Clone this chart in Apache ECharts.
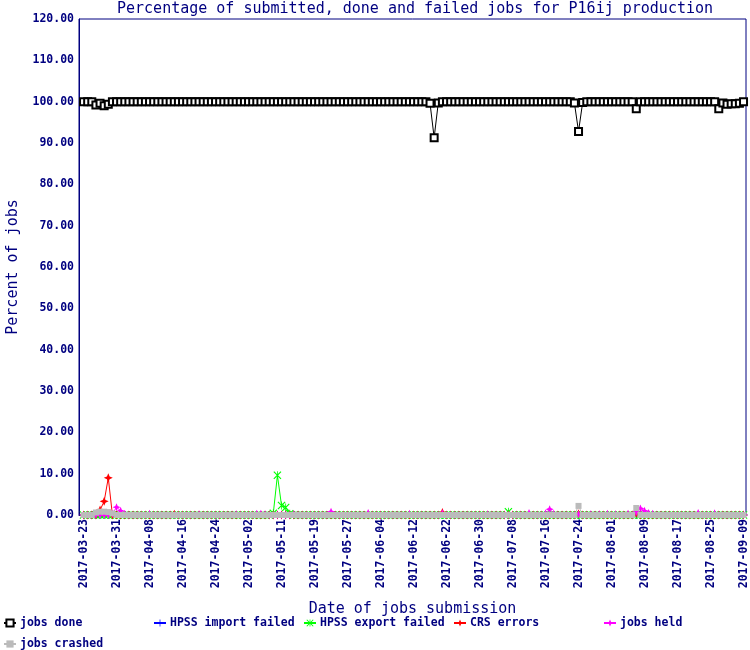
<!DOCTYPE html>
<html><head><meta charset="utf-8">
<script src="https://cdn.jsdelivr.net/npm/echarts@6/dist/echarts.min.js"></script>
<style>html,body{margin:0;padding:0;background:#fff}#c{width:750px;height:650px}</style>
</head><body><div id="c"></div>
<script>
const dates = [
"2017-03-23","2017-03-24","2017-03-25","2017-03-26","2017-03-27","2017-03-28","2017-03-29","2017-03-30",
"2017-03-31","2017-04-01","2017-04-02","2017-04-03","2017-04-04","2017-04-05","2017-04-06","2017-04-07",
"2017-04-08","2017-04-09","2017-04-10","2017-04-11","2017-04-12","2017-04-13","2017-04-14","2017-04-15",
"2017-04-16","2017-04-17","2017-04-18","2017-04-19","2017-04-20","2017-04-21","2017-04-22","2017-04-23",
"2017-04-24","2017-04-25","2017-04-26","2017-04-27","2017-04-28","2017-04-29","2017-04-30","2017-05-01",
"2017-05-02","2017-05-03","2017-05-04","2017-05-05","2017-05-06","2017-05-08","2017-05-09","2017-05-10",
"2017-05-11","2017-05-12","2017-05-13","2017-05-14","2017-05-15","2017-05-16","2017-05-17","2017-05-18",
"2017-05-19","2017-05-20","2017-05-21","2017-05-22","2017-05-23","2017-05-24","2017-05-25","2017-05-26",
"2017-05-27","2017-05-28","2017-05-29","2017-05-30","2017-05-31","2017-06-01","2017-06-02","2017-06-03",
"2017-06-04","2017-06-05","2017-06-06","2017-06-07","2017-06-08","2017-06-09","2017-06-10","2017-06-11",
"2017-06-12","2017-06-13","2017-06-14","2017-06-15","2017-06-16","2017-06-19","2017-06-20","2017-06-21",
"2017-06-22","2017-06-23","2017-06-24","2017-06-25","2017-06-26","2017-06-27","2017-06-28","2017-06-29",
"2017-06-30","2017-07-01","2017-07-02","2017-07-03","2017-07-04","2017-07-05","2017-07-06","2017-07-07",
"2017-07-08","2017-07-09","2017-07-10","2017-07-11","2017-07-12","2017-07-13","2017-07-14","2017-07-15",
"2017-07-16","2017-07-17","2017-07-18","2017-07-19","2017-07-20","2017-07-21","2017-07-22","2017-07-23",
"2017-07-24","2017-07-25","2017-07-26","2017-07-27","2017-07-28","2017-07-29","2017-07-30","2017-07-31",
"2017-08-01","2017-08-02","2017-08-03","2017-08-04","2017-08-05","2017-08-06","2017-08-07","2017-08-08",
"2017-08-09","2017-08-10","2017-08-11","2017-08-12","2017-08-13","2017-08-14","2017-08-15","2017-08-16",
"2017-08-17","2017-08-18","2017-08-19","2017-08-20","2017-08-21","2017-08-22","2017-08-23","2017-08-24",
"2017-08-25","2017-08-26","2017-08-27","2017-08-28","2017-08-29","2017-09-06","2017-09-07","2017-09-08",
"2017-09-09"];

const labelIndices = [0,8,16,24,32,40,48,56,64,72,80,88,96,104,112,120,128,136,144,152,160];

const jobsDone = [
100,100,100,99.2,99.6,99.0,99.4,100,100,100, 100,100,100,100,100,100,100,100,100,100,
100,100,100,100,100,100,100,100,100,100, 100,100,100,100,100,100,100,100,100,100,
100,100,100,100,100,100,100,100,100,100, 100,100,100,100,100,100,100,100,100,100,
100,100,100,100,100,100,100,100,100,100, 100,100,100,100,100,100,100,100,100,100,
100,100,100,100,99.6,91.3,99.7,100,100,100, 100,100,100,100,100,100,100,100,100,100,
100,100,100,100,100,100,100,100,100,100, 100,100,100,100,100,100,100,100,100,99.7,
92.8,99.8,100,100,100,100,100,100,100,100, 100,100,100,100,98.3,100,100,100,100,100,
100,100,100,100,100,100,100,100,100,100, 100,100,100,100,98.3,99.7,99.4,99.5,99.5,99.6,
100];
const hpssImport = [
0,0,0,0,0,0,0,0,0,0, 0,0,0,0,0,0,0,0,0,0, 0,0,0,0,0,0,0,0,0,0, 0,0,0,0,0,0,0,0,0,0,
0,0,0,0,0,0,0,0,0,0, 0,0,0,0,0,0,0,0,0,0, 0,0,0,0,0,0,0,0,0,0, 0,0,0,0,0,0,0,0,0,0,
0,0,0,0,0,0,0,0,0,0, 0,0,0,0,0,0,0,0,0,0, 0,0,0,0,0,0,0,0,0,0, 0,0,0,0,0,0,0,0,0,0,
0,0,0,0,0,0,0,0,0,0, 0,0,0,0,0,0,0,0,0,0, 0,0,0,0,0,0,0,0,0,0, 0,0,0,0,0,0,0,0,0,0,
0];
const hpssExport = [
0,0,0,0,0,0,0,0,0,0, 0,0,0,0,0,0,0,0,0,0, 0,0,0,0,0,0,0,0,0,0, 0,0,0,0,0,0,0,0,0,0,
0,0,0,0,0,0,0.4,9.6,2.3,1.8, 0.3,0,0,0,0,0,0,0,0,0, 0,0,0,0,0,0,0,0,0,0, 0,0,0,0,0,0,0,0,0,0,
0,0,0,0,0,0,0,0,0,0, 0,0,0,0,0,0,0,0,0,0, 0,0,0,0.8,0,0,0,0,0,0, 0,0,0,0,0,0,0,0,0,0,
0,0,0,0,0,0,0,0,0,0, 0,0,0,0,0,0,0,0,0,0, 0,0,0,0,0,0,0,0,0,0, 0,0,0,0,0,0,0,0,0,0,
0];
const crsErrors = [
0,0,0,0,1.2,3.3,9.0,0,0,0, 0,0,0,0,0,0,0,0,0,0, 0,0,0.2,0,0,0,0,0,0,0, 0,0,0,0,0,0,0,0,0,0,
0,0,0,0,0,0,0,0,0,0, 0,0,0,0,0,0,0,0,0,0, 0,0,0,0,0,0,0,0,0,0, 0,0,0,0,0,0,0,0,0,0,
0,0,0,0,0,0,0,0.6,0,0, 0,0,0,0,0,0,0,0,0,0, 0,0,0,0,0,0,0,0,0,0, 0,0,0,0,0,0,0,0,0,0,
0.3,0,0,0,0,0,0,0,0,0, 0,0,0,0,0.4,0,0,0,0,0, 0,0,0,0,0,0,0,0,0,0, 0,0,0,0,0,0,0,0,0,0,
0];
const jobsHeld = [
0,0,0,0,0,0,0,0.3,1.9,1.0, 0.3,0,0,0,0,0,0.3,0,0,0, 0,0,0,0,0,0,0,0,0.2,0, 0,0,0,0,0,0,0,0.2,0,0,
0,0,0.3,0.3,0.2,0,0,0,0,0, 0,0.2,0,0,0,0,0,0,0,0, 0.8,0,0,0,0,0,0,0,0,0.5, 0,0,0,0,0,0,0,0,0,0.3,
0,0,0,0,0,0,0,0.4,0,0, 0,0,0,0,0,0,0,0,0.2,0, 0,0,0,0,0,0,0,0,0.5,0, 0,0,0.4,1.4,0.3,0,0,0,0,0,
0.2,0,0,0.2,0,0.2,0,0.3,0,0.2, 0,0,0.3,0,0.7,1.6,1.0,0.5,0.3,0, 0,0,0,0,0,0,0,0,0,0.5, 0,0,0,0.4,0,0,0,0,0,0,
0];
const jobsCrashed = [
0,0,0,0.6,0.8,0.8,0.7,0.4,0,0, 0,0,0,0,0,0,0,0,0,0, 0,0,0,0,0,0,0,0,0,0, 0,0,0,0,0,0,0,0,0,0,
0,0,0,0,0,0,0,0,0,0, 0,0,0,0,0,0,0,0,0,0, 0,0,0,0,0,0,0,0,0,0, 0,0,0,0,0,0,0,0,0,0,
0,0,0,0,0,0,0,0,0,0, 0,0,0,0,0,0,0,0,0,0, 0,0,0,0,0,0,0,0,0,0, 0,0,0,0,0,0,0,0,0,0,
2.2,0,0,0,0,0,0,0,0,0, 0,0,0,0,1.7,0,0,0,0,0, 0,0,0,0,0,0,0,0,0,0, 0,0,0,0,0,0,0,0,0,0,
0];

const NAVY = '#000080';
const FONT = 'DejaVu Sans Mono';
const pairs = arr => arr.map((v, i) => [i, v]);

const plusPath = 'path://M0,4.5H10V5.5H0ZM4.5,0H5.5V10H4.5Z';
const xPath = 'path://M0,1L1,0L10,9L9,10ZM9,0L10,1L1,10L0,9ZM4.5,0H5.5V10H4.5Z';
const starPath = 'path://M5,0L6.5,3.5L10,5L6.5,6.5L5,10L3.5,6.5L0,5L3.5,3.5Z';

function mkSeries(name, data, color, symbol, size, extra) {
  return Object.assign({
    name: name, type: 'line', data: pairs(data),
    symbol: symbol, symbolSize: size, showSymbol: true, showAllSymbol: true,
    lineStyle: { color: color, width: 1 },
    itemStyle: { color: color },
    emphasis: { disabled: true },
    animation: false
  }, extra || {});
}

const legendNames = ['jobs done','HPSS import failed','HPSS export failed','CRS errors','jobs held','jobs crashed'];
const legendPos = [[3,617],[153,617],[303,617],[453,617],[603,617],[3,638]];

const chart = echarts.init(document.getElementById('c'), null, { renderer: 'canvas' });
chart.setOption({
  backgroundColor: '#ffffff',
  animation: false,
  title: {
    text: 'Percentage of submitted, done and failed jobs for P16ij production',
    left: 117, top: 2, padding: 0,
    textStyle: { color: NAVY, fontFamily: FONT, fontSize: 15, fontWeight: 'normal' }
  },
  legend: legendNames.map((n, i) => ({
    data: [n], left: legendPos[i][0], top: legendPos[i][1],
    itemWidth: 12, itemHeight: 9, itemGap: 2, padding: 0,
    textStyle: { color: NAVY, fontFamily: FONT, fontSize: 11.5, fontWeight: 'bold', padding: [0,0,0,-1] },
    selectedMode: false
  })),
  grid: { left: 79, right: 4, top: 19, bottom: 135, show: true, borderColor: NAVY, borderWidth: 1,
          containLabel: false, outerBoundsMode: 'none' },
  xAxis: {
    type: 'value', min: -1.1, max: 160.6,
    name: 'Date of jobs submission', nameLocation: 'middle', nameGap: 87,
    nameTextStyle: { color: NAVY, fontFamily: FONT, fontSize: 15 },
    axisLine: { show: true, onZero: false, lineStyle: { color: NAVY } },
    axisTick: { show: true, customValues: labelIndices, length: 3, lineStyle: { color: NAVY } },
    splitLine: { show: false },
    axisLabel: {
      customValues: labelIndices, rotate: 90, margin: 4,
      formatter: v => dates[Math.round(v)] || '',
      color: NAVY, fontFamily: FONT, fontSize: 11.5, fontWeight: 'bold'
    }
  },
  yAxis: {
    type: 'value', min: 0, max: 120, interval: 10,
    name: 'Percent of jobs', nameLocation: 'middle', nameGap: 58,
    nameTextStyle: { color: NAVY, fontFamily: FONT, fontSize: 15 },
    axisLine: { show: true, onZero: false, lineStyle: { color: NAVY } },
    axisTick: { show: false },
    splitLine: { show: false },
    axisLabel: {
      formatter: v => v.toFixed(2), margin: 5,
      color: NAVY, fontFamily: FONT, fontSize: 11.5, fontWeight: 'bold'
    }
  },
  series: [
    mkSeries('jobs done', jobsDone, '#000000', 'emptyRect', 7, { itemStyle: { color: '#000000', borderColor: '#000000', borderWidth: 1 } }),
    mkSeries('HPSS import failed', hpssImport, '#0000ff', plusPath, 8),
    mkSeries('HPSS export failed', hpssExport, '#00ff00', xPath, 8),
    mkSeries('CRS errors', crsErrors, '#ff0000', starPath, 9),
    mkSeries('jobs held', jobsHeld, '#ff00ff', starPath, 8),
    mkSeries('jobs crashed', jobsCrashed, '#bbbbbb', 'rect', 6)
  ]
});
</script>
</body></html>
